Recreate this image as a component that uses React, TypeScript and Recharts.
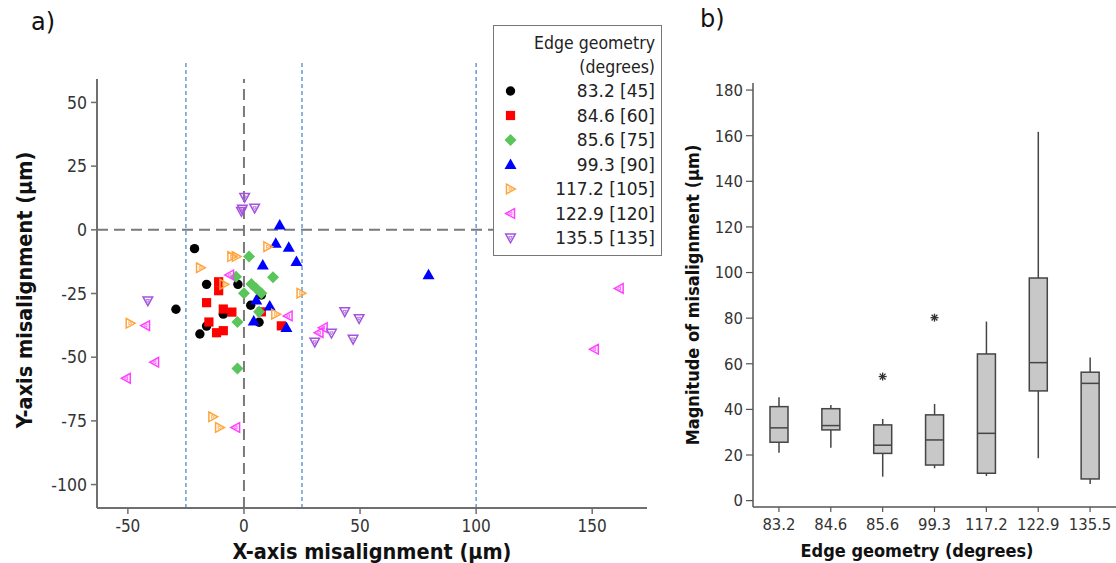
import React from 'react'
import {
  ScatterChart,
  Scatter,
  ComposedChart,
  Bar,
  XAxis,
  YAxis,
  ReferenceLine,
  Legend,
  Label,
} from 'recharts'

const FONT = '"DejaVu Sans Condensed", "DejaVu Sans", sans-serif'
const LEGEND_FONT = '"DejaVu Sans", sans-serif'
const TEXT = '#333'
const AXIS = '#6f6f6f'

// a) X/Y misalignment (µm), one list of [x, y] per edge geometry
const geometries = ['83.2 [45]', '84.6 [60]', '85.6 [75]', '99.3 [90]', '117.2 [105]', '122.9 [120]', '135.5 [135]']

const pts832: [number, number][] = [
  [-21.3, -7.4], [-29.3, -31.2], [-16.1, -21.4], [-2.6, -21.4], [2.9, -29.6],
  [7.5, -25.6], [-8.9, -33.1], [-16.1, -37.8], [-19.0, -40.9], [6.5, -36.3],
]
const pts846: [number, number][] = [
  [-10.9, -20.4], [-10.9, -23.9], [-16.1, -28.6], [-8.9, -31.1], [-5.2, -32.3],
  [-15.1, -36.2], [-11.8, -40.4], [-8.9, -39.6], [16.1, -37.7], [7.5, -32.2],
]
const pts856: [number, number][] = [
  [2.2, -10.5], [-3.4, -18.4], [12.5, -18.6], [3.2, -21.3], [5.3, -23.0],
  [7.5, -24.9], [0.0, -24.9], [6.5, -32.2], [-2.8, -36.2], [-2.8, -54.4],
]
const pts993: [number, number][] = [
  [15.4, 1.9], [13.7, -5.3], [19.3, -6.8], [22.6, -12.4], [8.1, -13.8],
  [5.3, -27.6], [11.1, -29.9], [4.2, -35.8], [18.3, -38.3], [79.5, -17.6],
]
const pts1172: [number, number][] = [
  [10.3, -6.6], [-5.2, -10.5], [-3.3, -10.5], [-18.7, -14.9], [-8.6, -21.4],
  [24.6, -24.9], [13.7, -33.1], [-49.0, -36.7], [-13.4, -73.4], [-10.5, -77.6],
]
const pts1229: [number, number][] = [
  [-6.2, -17.7], [19.0, -33.8], [-42.4, -37.6], [-38.5, -52.0], [-50.7, -58.3],
  [-3.6, -77.6], [34.1, -38.4], [32.3, -40.4], [161.6, -23.0], [150.9, -46.9],
]
const pts1355: [number, number][] = [
  [0.3, 12.7], [-0.7, 8.1], [-1.1, 7.2], [4.6, 8.5], [-41.4, -27.9],
  [43.4, -32.2], [49.6, -34.9], [37.7, -40.6], [30.5, -44.1], [47.0, -43.0],
]
const scatterSeries = [pts832, pts846, pts856, pts993, pts1172, pts1229, pts1355]

type Kind = 'circle' | 'square' | 'diamond' | 'up' | 'right' | 'left' | 'down'
const kinds: Kind[] = ['circle', 'square', 'diamond', 'up', 'right', 'left', 'down']
const colors = ['#000000', '#ff0000', '#5ac55a', '#0000ff', '#ffa53c', '#ff40ff', '#a453dc']

// b) magnitude of misalignment (µm) box plot
const boxCategories = ['83.2', '84.6', '85.6', '99.3', '117.2', '122.9', '135.5']
const whiskerLow = [21.0, 23.2, 10.5, 14.2, 10.8, 18.6, 7.3]
const quartile1 = [25.6, 31.0, 20.7, 15.6, 12.0, 48.1, 9.5]
const medians = [31.9, 32.9, 24.3, 26.6, 29.5, 60.5, 51.4]
const quartile3 = [41.2, 40.3, 33.2, 37.6, 64.3, 97.6, 56.3]
const whiskerHigh = [45.3, 41.9, 35.8, 42.4, 78.5, 161.7, 62.8]
const outliers = [null, null, 54.4, 80.2, null, null, null]

const boxRows = boxCategories.map((cat, i) => ({
  cat,
  lo: whiskerLow[i],
  q1: quartile1[i],
  med: medians[i],
  q3: quartile3[i],
  hi: whiskerHigh[i],
  out: outliers[i],
}))

const pts = (list: number[][], cx: number, cy: number) =>
  list.map(([a, b]) => `${cx + a},${cy + b}`).join(' ')

function Marker({ kind, cx, cy, color }: { kind: Kind; cx: number; cy: number; color: string }) {
  if (kind === 'circle') return <circle cx={cx} cy={cy} r={4.7} fill={color} />
  if (kind === 'square') return <rect x={cx - 4.6} y={cy - 4.6} width={9.2} height={9.2} fill={color} />
  if (kind === 'diamond')
    return <polygon points={pts([[0, -6], [6, 0], [0, 6], [-6, 0]], cx, cy)} fill={color} />
  if (kind === 'up') return <polygon points={pts([[0, -6], [6, 4.5], [-6, 4.5]], cx, cy)} fill={color} />
  const tri =
    kind === 'right'
      ? [[-4, -4.8], [4.8, 0], [-4, 4.8]]
      : kind === 'left'
        ? [[4, -4.8], [-4.8, 0], [4, 4.8]]
        : [[-4.8, -4], [4.8, -4], [0, 4.8]]
  const inner = tri.map(([a, b]) => [a * 0.35, b * 0.35])
  return (
    <g>
      <polygon points={pts(tri, cx, cy)} fill="none" stroke={color} strokeWidth={1.5} />
      <polygon points={pts(inner, cx, cy)} fill="none" stroke={color} strokeWidth={0.8} />
    </g>
  )
}

function LegendBox() {
  const textStyle = { fontFamily: LEGEND_FONT, fontSize: 17, fill: '#222' }
  const titleText = { ...textStyle, fontFamily: FONT, fontSize: 17.5 }
  return (
    <svg width={169} height={231} style={{ display: 'block' }}>
      <rect x={0.5} y={0.5} width={168} height={230} fill="#fff" stroke="#777" />
      <text x={162} y={18} textAnchor="end" dominantBaseline="central" style={titleText}>Edge geometry</text>
      <text x={162} y={42} textAnchor="end" dominantBaseline="central" style={titleText}>(degrees)</text>
      {geometries.map((g, i) => (
        <g key={g}>
          <Marker kind={kinds[i]} cx={17.5} cy={66 + i * 24.5} color={colors[i]} />
          <text x={162} y={66 + i * 24.5} textAnchor="end" dominantBaseline="central" style={textStyle}>
            {g}
          </text>
        </g>
      ))}
    </svg>
  )
}

// eslint-disable-next-line @typescript-eslint/no-explicit-any
function BoxShape(props: any) {
  const { x, y, width, height, payload } = props
  if (payload == null || height == null) return <g />
  const top = Math.min(y, y + height)
  const bottom = Math.max(y, y + height)
  // place quartiles inside the whisker range the bar was given by the y scale
  const py = (v: number) => bottom - ((v - payload.lo) / (payload.hi - payload.lo)) * (bottom - top)
  const cx = x + width / 2
  const stroke = '#454545'
  return (
    <g>
      <line x1={cx} x2={cx} y1={py(payload.hi)} y2={py(payload.q3)} stroke={stroke} strokeWidth={1.5} />
      <line x1={cx} x2={cx} y1={py(payload.q1)} y2={py(payload.lo)} stroke={stroke} strokeWidth={1.5} />
      <rect x={x} y={py(payload.q3)} width={width} height={py(payload.q1) - py(payload.q3)}
        fill="#c8c8c8" stroke={stroke} strokeWidth={1.5} />
      <line x1={x} x2={x + width} y1={py(payload.med)} y2={py(payload.med)} stroke={stroke} strokeWidth={1.5} />
    </g>
  )
}

// eslint-disable-next-line @typescript-eslint/no-explicit-any
function Asterisk(props: any) {
  const { cx, cy, payload } = props
  if (payload?.out == null || cx == null || cy == null) return <g />
  const r = 4
  const d = r * 0.72
  return (
    <g stroke="#333" strokeWidth={1.3}>
      <line x1={cx} x2={cx} y1={cy - r} y2={cy + r} />
      <line x1={cx - r} x2={cx + r} y1={cy} y2={cy} />
      <line x1={cx - d} x2={cx + d} y1={cy - d} y2={cy + d} />
      <line x1={cx - d} x2={cx + d} y1={cy + d} y2={cy - d} />
    </g>
  )
}

const titleStyle = (size: number) => ({
  fontFamily: FONT,
  fontSize: size,
  fontWeight: 700,
  fill: '#111',
})

export default function App() {
  return (
    <div style={{ position: 'absolute', left: 0, top: 0, width: 1116, height: 563, background: '#fff', overflow: 'hidden' }}>
      <div style={{ position: 'absolute', left: 0, top: 0 }}>
        <ScatterChart width={670} height={563} margin={{ top: 79, right: 23, bottom: 0, left: 0 }}>
          <XAxis
            type="number"
            dataKey="x"
            domain={[-63.3, 173.6]}
            ticks={[-50, 0, 50, 100, 150]}
            allowDataOverflow
            height={55}
            axisLine={{ stroke: AXIS, strokeWidth: 2 }}
            tickLine={{ stroke: AXIS, strokeWidth: 1.5 }}
            tickSize={6}
            tickMargin={6}
            tick={{ fill: TEXT, fontSize: 17, fontFamily: FONT }}
          >
            <Label
              content={() => (
                <text x={372} y={551} textAnchor="middle" dominantBaseline="central" style={titleStyle(21.5)}>
                  X-axis misalignment (µm)
                </text>
              )}
            />
          </XAxis>
          <YAxis
            type="number"
            dataKey="y"
            domain={[-109.2, 59.2]}
            ticks={[-100, -75, -50, -25, 0, 25, 50]}
            allowDataOverflow
            width={97}
            axisLine={{ stroke: AXIS, strokeWidth: 2 }}
            tickLine={{ stroke: AXIS, strokeWidth: 1.5 }}
            tickSize={6}
            tickMargin={4}
            tick={{ fill: TEXT, fontSize: 17.5, fontFamily: FONT }}
          >
            <Label
              content={() => (
                <text x={24} y={290} textAnchor="middle" dominantBaseline="central"
                  transform="rotate(-90 24 290)" style={titleStyle(21.5)}>
                  Y-axis misalignment (µm)
                </text>
              )}
            />
          </YAxis>
          <ReferenceLine x={0} stroke="#7a7a7a" strokeWidth={2} strokeDasharray="11 6" />
          <ReferenceLine y={0} stroke="#7a7a7a" strokeWidth={2} strokeDasharray="11 6" />
          {[-25, 25, 100].map((v) => (
            <ReferenceLine
              key={v}
              segment={[{ x: v, y: -109.2 }, { x: v, y: 65.5 }]}
              ifOverflow="visible"
              stroke="#5b93d3"
              strokeWidth={1.4}
              strokeDasharray="4 3"
            />
          ))}
          {scatterSeries.map((s, i) => (
            <Scatter
              key={geometries[i]}
              name={geometries[i]}
              data={s.map(([x, y]) => ({ x, y }))}
              isAnimationActive={false}
              // eslint-disable-next-line @typescript-eslint/no-explicit-any
              shape={(p: any) => <Marker kind={kinds[i]} cx={p.cx} cy={p.cy} color={colors[i]} />}
            />
          ))}
          <Legend
            layout="horizontal"
            verticalAlign="middle"
            align="center"
            content={() => <LegendBox />}
            wrapperStyle={{ left: 493, top: 25, width: 169, height: 231 }}
          />
        </ScatterChart>
      </div>

      <div style={{ position: 'absolute', left: 670, top: 0 }}>
        <ComposedChart width={446} height={563} data={boxRows} margin={{ top: 83, right: 0, bottom: 0, left: 0 }}>
          <XAxis
            dataKey="cat"
            type="category"
            height={56}
            axisLine={{ stroke: '#555', strokeWidth: 1.5 }}
            tickLine={{ stroke: '#555', strokeWidth: 1.2 }}
            tickSize={5}
            tickMargin={6}
            tick={{ fill: TEXT, fontSize: 16.5, fontFamily: FONT }}
          >
            <Label
              content={() => (
                <text x={247} y={550} textAnchor="middle" dominantBaseline="central" style={titleStyle(18)}>
                  Edge geometry (degrees)
                </text>
              )}
            />
          </XAxis>
          <YAxis
            type="number"
            domain={[-2.8, 183.1]}
            ticks={[0, 20, 40, 60, 80, 100, 120, 140, 160, 180]}
            allowDataOverflow
            width={83}
            axisLine={{ stroke: '#555', strokeWidth: 1.5 }}
            tickLine={{ stroke: '#555', strokeWidth: 1.2 }}
            tickSize={7}
            tickMargin={3}
            tick={{ fill: TEXT, fontSize: 16.5, fontFamily: FONT }}
          >
            <Label
              content={() => (
                <text x={22} y={295} textAnchor="middle" dominantBaseline="central"
                  transform="rotate(-90 22 295)" style={titleStyle(18)}>
                  Magnitude of misalignment (µm)
                </text>
              )}
            />
          </YAxis>
          <Bar
            // eslint-disable-next-line @typescript-eslint/no-explicit-any
            dataKey={(d: any) => [d.lo, d.hi]}
            barSize={18}
            shape={BoxShape}
            isAnimationActive={false}
          />
          <Scatter dataKey="out" shape={Asterisk} isAnimationActive={false} />
        </ComposedChart>
      </div>

      <div style={{ position: 'absolute', left: 31, top: 8, fontFamily: '"DejaVu Sans", sans-serif', fontSize: 24, color: '#111' }}>a)</div>
      <div style={{ position: 'absolute', left: 700, top: 5, fontFamily: '"DejaVu Sans", sans-serif', fontSize: 24, color: '#111' }}>b)</div>
    </div>
  )
}
